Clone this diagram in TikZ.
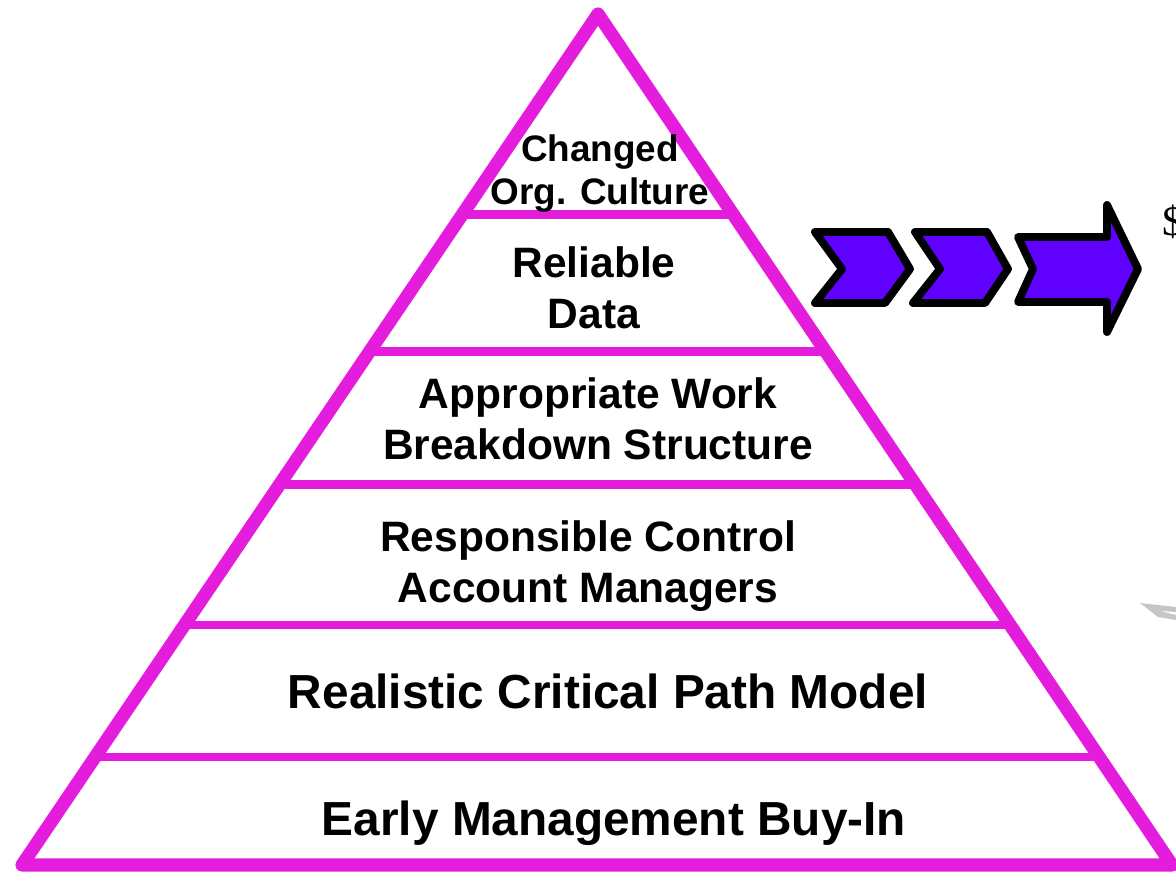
\documentclass[tikz,border=0pt]{standalone}
\usepackage{fontspec}
\setmainfont{Liberation Sans}
\newfontfamily\dollarfont{Liberation Serif}
\usepackage{tikz}
\usetikzlibrary{calc}
\definecolor{pyrpink}{RGB}{228,28,220}
\definecolor{chevfill}{RGB}{96,0,255}

\begin{document}
\begin{tikzpicture}[x=0.02cm,y=-0.02cm]
    \tikzstyle{pyr}=[draw=pyrpink,line width=7.5pt,line join=round,line cap=round]
    \tikzstyle{band}=[draw=pyrpink,line width=5pt]
    \tikzstyle{lbl}=[font=\bfseries\fontsize{24.2}{29}\selectfont,align=center,inner sep=0pt]
    \tikzstyle{biglbl}=[font=\bfseries\fontsize{27.2}{33}\selectfont,align=center,inner sep=0pt]
    \tikzstyle{chev}=[draw=black,fill=chevfill,line width=4.5pt,line join=round]
    \useasboundingbox (0,0) rectangle (1176,875);
    % pyramid corners
    \coordinate (apex) at (598,14);
    \coordinate (bl) at (22,865);
    \coordinate (br) at (1172,865);
    \draw[pyr] (apex) -- (bl) -- (br) -- cycle;
    % bands
    \foreach \t/\n in {0.236/a,0.397/b,0.553/c,0.718/d,0.873/e}{
        \coordinate (l\n) at ($(apex)!\t!(bl)$);
        \coordinate (r\n) at ($(apex)!\t!(br)$);
        \draw[band] (l\n) -- (r\n);
    }
    % labels
    \node[lbl,font=\bfseries\fontsize{21}{24.5}\selectfont] (culture) at (600,174) {Changed\\Org. Culture};
    \node[lbl] (data) at (594,288) {Reliable\\Data};
    \node[lbl] (wbs) at (598,419) {Appropriate Work\\Breakdown Structure};
    \node[lbl] (cam) at (588,566) {Responsible Control\\Account Managers};
    \node[biglbl] (cpm) at (608,691) {Realistic Critical Path Model};
    \node[biglbl] (buyin) at (614,823) {Early Management Buy-In};
    % chevrons
    \draw[chev] (815,232) -- (888,232) -- (910,269) -- (885,303) -- (815,303) -- (842,269) -- cycle;
    \draw[chev] (915,232) -- (987,232) -- (1008,269) -- (985,303) -- (913,303) -- (940,269) -- cycle;
    \draw[chev] (1018,237) -- (1107,237) -- (1107,205) -- (1138,269) -- (1107,332)
        -- (1107,302) -- (1018,302) -- (1033,269) -- cycle;
    \node[anchor=west,inner sep=0pt,font=\dollarfont\fontsize{24}{28}\selectfont] (dollar) at (1162,222) {\$};
    % clipart fragment
    \fill[gray!45] (1140,603) -- (1176,607) -- (1176,612) -- (1160,611) -- (1176,615) -- (1176,620) -- (1158,617) -- cycle;
\end{tikzpicture}
\end{document}
